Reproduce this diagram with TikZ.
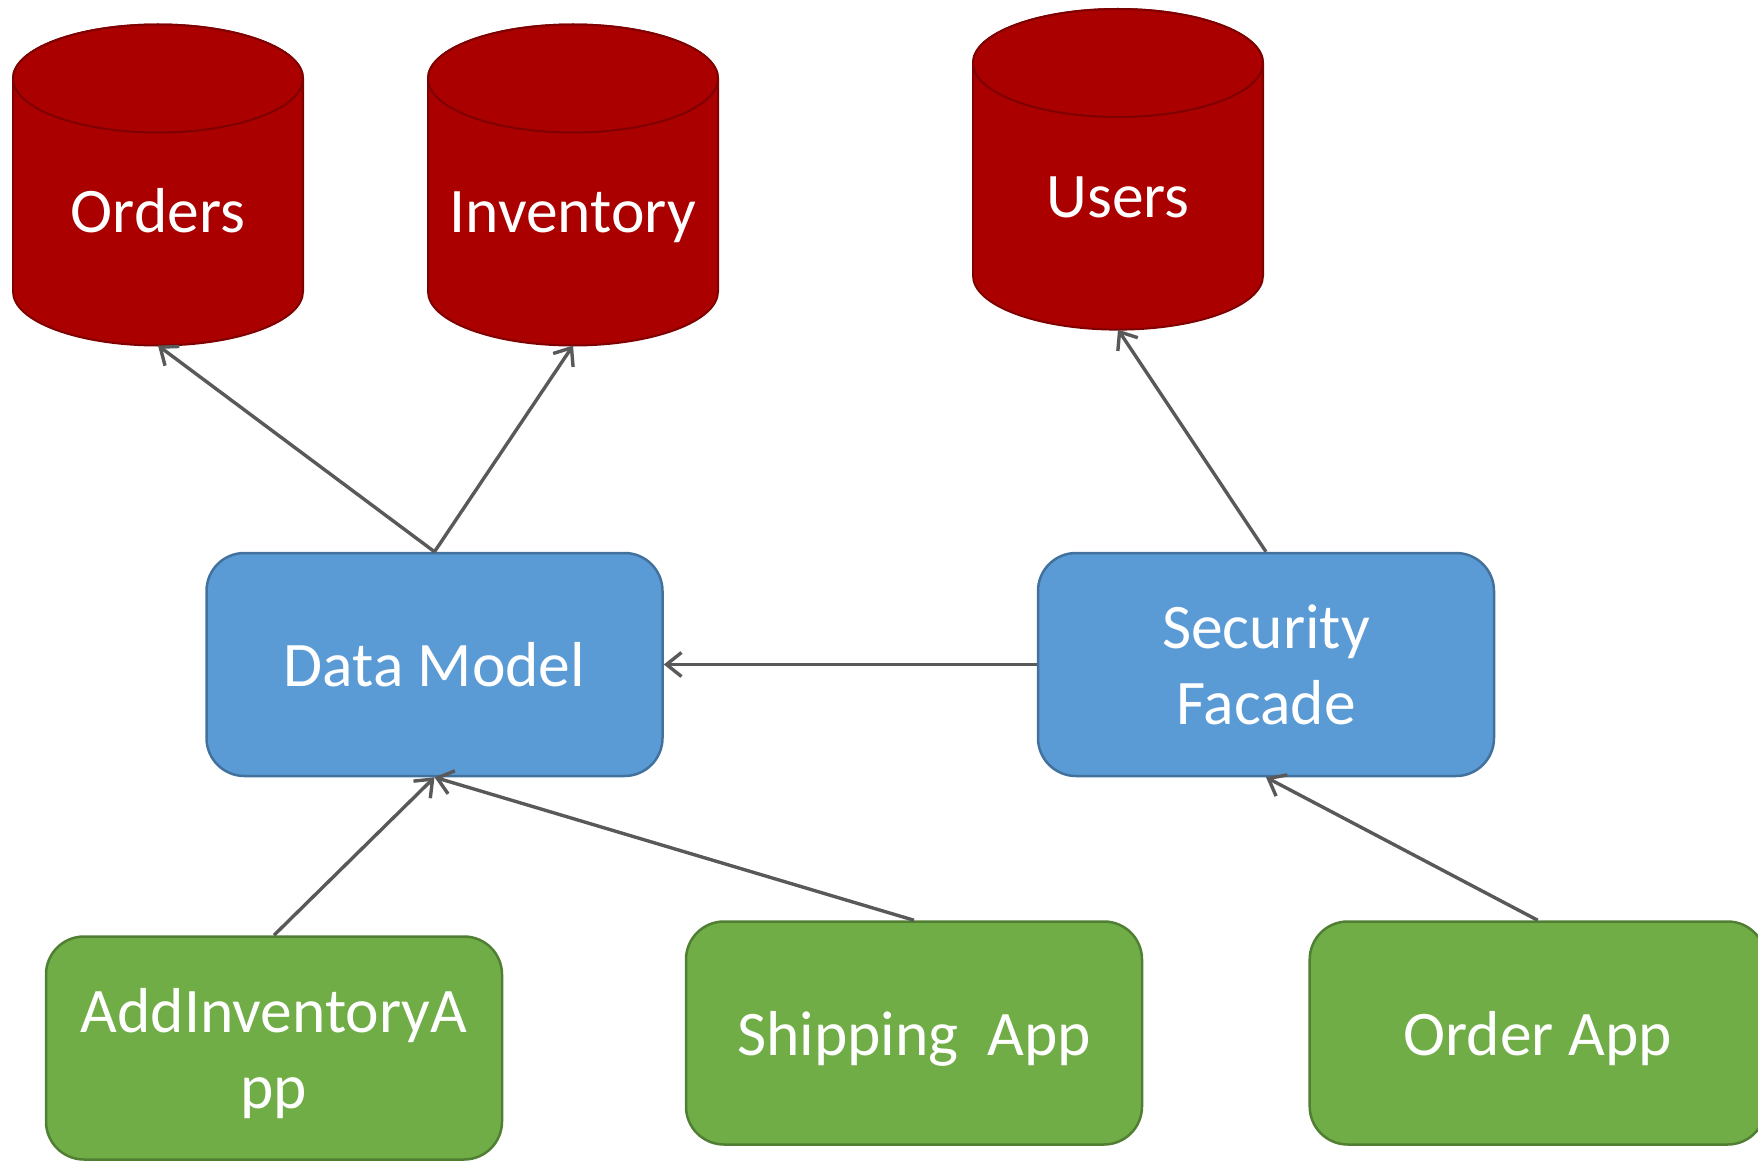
\documentclass[tikz,border=0pt]{standalone}
\usepackage{fontspec}
\setmainfont{Carlito}
\usetikzlibrary{arrows.meta}
\definecolor{dbred}{HTML}{AA0000}
\definecolor{dbedge}{HTML}{7F0000}
\definecolor{bluefill}{HTML}{5B9BD5}
\definecolor{blueedge}{HTML}{41719C}
\definecolor{greenfill}{HTML}{70AD47}
\definecolor{greenedge}{HTML}{507E32}
\definecolor{arrowgray}{HTML}{595959}
\newcommand\mycyl[3]{% cx, top ellipse centre y, bottom ellipse centre y (downwards positive)
  \path[db] (#1-145,-#2) -- (#1-145,-#3) arc[start angle=180,end angle=360,x radius=145,y radius=54]
    -- (#1+145,-#2) arc[start angle=0,end angle=180,x radius=145,y radius=54] -- cycle;
  \draw[db] (#1,-#2) ellipse[x radius=145,y radius=54];
}
\begin{document}
\begin{tikzpicture}[x=1pt,y=1pt,
  lbl/.style={text=white, font=\fontsize{63.5}{76}\selectfont, inner sep=0pt},
  box/.style={rounded corners=38pt, line width=2.5pt, minimum width=456pt, minimum height=223pt,
    text=white, font=\fontsize{63.5}{76}\selectfont, align=center, inner sep=0pt},
  svc/.style={box, fill=bluefill, draw=blueedge},
  app/.style={box, fill=greenfill, draw=greenedge, text depth=0pt},
  db/.style={fill=dbred, draw=dbedge, line width=2pt},
  conn/.style={draw=arrowgray, line width=3.4pt, -{Straight Barb[length=15pt,width=24pt]}}
]
\useasboundingbox (0,0) rectangle (1758,-1161);
\clip (0,0) rectangle (1758,-1161);

% databases
\mycyl{158}{78.5}{291.5}
\mycyl{573}{78.5}{291.5}
\mycyl{1118}{63}{275.6}
\node[lbl, anchor=base] (orders) at (158,-232) {Orders};
\node[lbl, anchor=base] (inventory) at (573,-232) {Inventory};
\node[lbl, anchor=base] (users) at (1118,-217.5) {Users};
\coordinate (ordersB) at (158,-345.5);
\coordinate (inventoryB) at (573,-345.5);
\coordinate (usersB) at (1118,-329.6);

% services
\node[svc] (dm) at (434.5,-664.5) {Data Model};
\node[svc] (sec) at (1266,-664.5) {Security\\Facade};

% apps
\node[app] (addinv) at (274,-1048) {AddInventoryA\\pp};
\node[app] (ship) at (914,-1033) {Shipping\ \ App};
\node[app] (order) at (1537.7,-1033) {Order App};

% connectors
\draw[conn] (dm.north) -- (ordersB);
\draw[conn] (dm.north) -- (inventoryB);
\draw[conn] (sec.north) -- (usersB);
\draw[conn] (sec.west) -- (dm.east);
\draw[conn] (addinv.north) -- (dm.south);
\draw[conn] (ship.north) -- (dm.south);
\draw[conn] (order.north) -- (sec.south);
\end{tikzpicture}
\end{document}
